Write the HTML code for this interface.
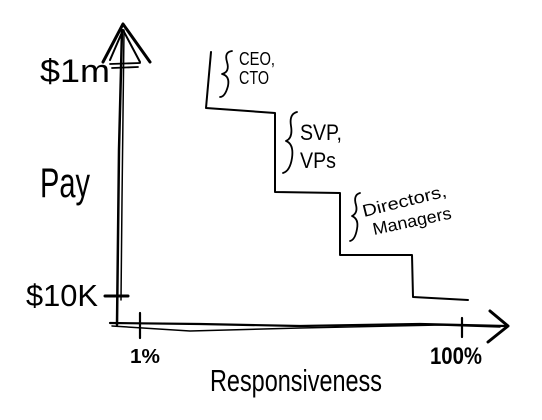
<!DOCTYPE html>
<html><head><style>html,body{margin:0;padding:0;background:#fff}svg{display:block}</style></head>
<body>
<svg width="542" height="420" viewBox="0 0 542 420" xmlns="http://www.w3.org/2000/svg" font-family="Liberation Sans, sans-serif" fill="none" stroke="#000" stroke-linecap="round" stroke-linejoin="round">
<!-- y axis -->
<path d="M122 30 L119 150 L117 325" stroke-width="2.5"/>
<path d="M124 30 L122 200 L121 300" stroke-width="1.5"/>
<path d="M103 62 L123 24 L150 62" stroke-width="3"/>
<path d="M110 60 L123 30 L140 62" stroke-width="2"/>
<path d="M110 64 L140 63 M112 68 L138 67" stroke-width="1.8"/>
<path d="M105 296 L128 296" stroke-width="3"/>
<!-- x axis -->
<path d="M110 323 L200 324 L300 326 L420 324 L505 326" stroke-width="2.2"/>
<path d="M112 326 L190 331 L300 328 L440 325 L500 327" stroke-width="1.5"/>
<path d="M490 311 L508 326 L488 342" stroke-width="3"/>
<path d="M140 313 L140 338 M462 318 L462 337" stroke-width="2.2"/>
<!-- steps -->
<path d="M211 52 L206 108 L275 113 L275 192 L340 193 L340 255 L412 255 L413 297 L468 300" stroke-width="2"/>
<!-- braces -->
<path d="M232 51 Q224 52 227 62 Q230 72 222 74 Q230 76 228 86 Q225 97 220 97" stroke-width="1.8"/>
<path d="M297 112 Q289 114 291 126 Q293 138 286 141 Q294 144 292 158 Q290 171 283 173" stroke-width="1.8"/>
<path d="M360 193 Q353 195 356 205 Q358 213 352 216 Q359 219 357 229 Q355 240 350 241" stroke-width="1.8"/>
<g fill="#000" stroke="none">
<text x="239" y="65" font-size="18" textLength="36" lengthAdjust="spacingAndGlyphs">CEO,</text>
<text x="239" y="84" font-size="18" textLength="30" lengthAdjust="spacingAndGlyphs">CTO</text>
<text x="300" y="140" font-size="22" textLength="42" lengthAdjust="spacingAndGlyphs">SVP,</text>
<text x="300" y="168" font-size="22" textLength="36" lengthAdjust="spacingAndGlyphs">VPs</text>
<text x="364" y="217" font-size="17" transform="rotate(-14 364 217)" textLength="86" lengthAdjust="spacingAndGlyphs">Directors,</text>
<text x="374" y="235" font-size="17" transform="rotate(-12 374 235)" textLength="80" lengthAdjust="spacingAndGlyphs">Managers</text>
<text x="40" y="82" font-size="32" textLength="70" lengthAdjust="spacingAndGlyphs">$1m</text>
<text x="40" y="197" font-size="42" textLength="50" lengthAdjust="spacingAndGlyphs">Pay</text>
<text x="26" y="306" font-size="31" textLength="72" lengthAdjust="spacingAndGlyphs">$10K</text>
<text x="130" y="363" font-size="20" font-weight="bold" textLength="30" lengthAdjust="spacingAndGlyphs">1%</text>
<text x="430" y="364" font-size="24" font-weight="bold" textLength="52" lengthAdjust="spacingAndGlyphs">100%</text>
<text x="210" y="391" font-size="31" textLength="172" lengthAdjust="spacingAndGlyphs">Responsiveness</text>
</g>
</svg>
</body></html>
